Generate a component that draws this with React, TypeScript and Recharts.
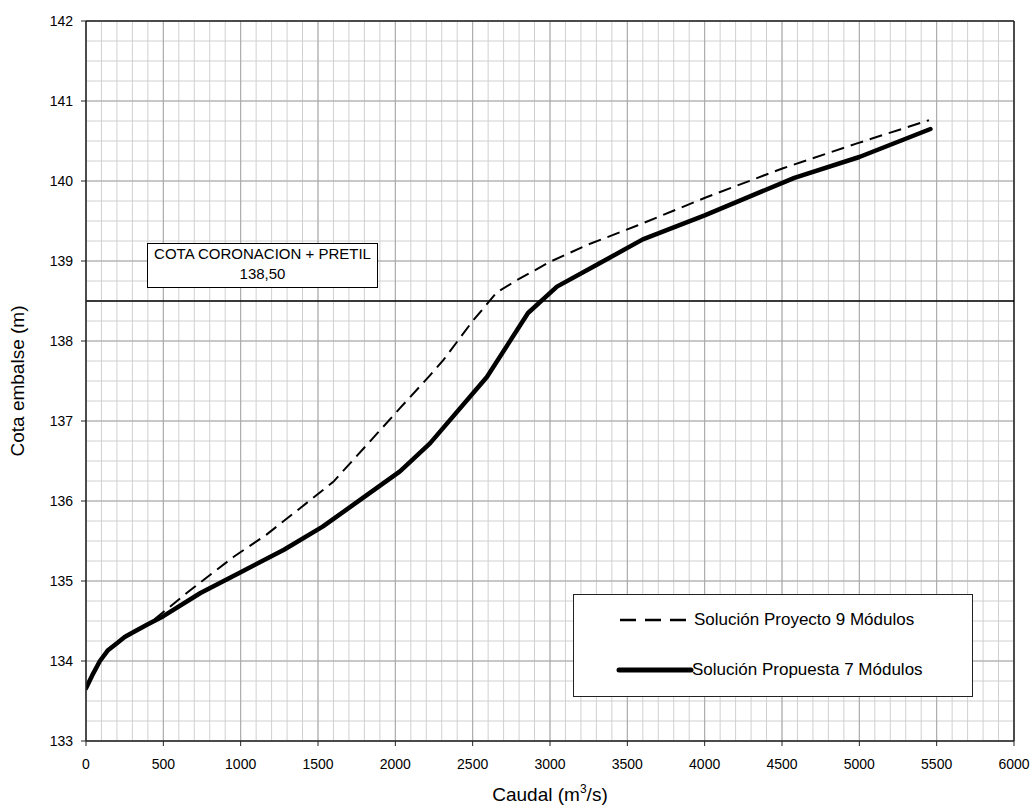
import React from "react";
import {
  LineChart,
  Line,
  XAxis,
  YAxis,
  CartesianGrid,
  ReferenceLine,
  Legend,
  Label,
} from "recharts";

// caudal (m3/s) y cota (m)
const propuestaX = [0, 40, 90, 140, 198, 250, 305, 400, 500, 740, 1000, 1280, 1530, 1770, 2030, 2224, 2592, 2858, 3045, 3300, 3600, 4000, 4580, 5000, 5460];
const propuestaY = [133.66, 133.82, 134.0, 134.13, 134.22, 134.3, 134.36, 134.46, 134.56, 134.85, 135.11, 135.39, 135.68, 136.01, 136.37, 136.72, 137.55, 138.35, 138.68, 138.95, 139.27, 139.57, 140.04, 140.3, 140.65];

const proyectoX = [0, 40, 90, 140, 198, 250, 305, 436, 651, 953, 1167, 1384, 1599, 1815, 2030, 2224, 2310, 2496, 2657, 2786, 3000, 3239, 3560, 4015, 4507, 4985, 5450];
const proyectoY = [133.66, 133.82, 134.0, 134.13, 134.22, 134.3, 134.36, 134.51, 134.85, 135.3, 135.58, 135.91, 136.24, 136.7, 137.16, 137.57, 137.76, 138.24, 138.61, 138.76, 138.99, 139.2, 139.44, 139.8, 140.16, 140.47, 140.76];

const xTicks = [0, 500, 1000, 1500, 2000, 2500, 3000, 3500, 4000, 4500, 5000, 5500, 6000];
const yTicks = [133, 134, 135, 136, 137, 138, 139, 140, 141, 142];

const cotaCoronacion = 138.5;
const cotaTexto = ["COTA CORONACION + PRETIL", "138,50"];

const seriesNames = ["Solución Proyecto 9 Módulos", "Solución Propuesta 7 Módulos"];

const propuesta = propuestaX.map((x, i) => ({ x, y: propuestaY[i] }));
const proyecto = proyectoX.map((x, i) => ({ x, y: proyectoY[i] }));

const FONT = "'Liberation Sans', Arial, sans-serif";

const LegendBox = () => (
  <div
    style={{
      width: 398,
      height: 101,
      border: "1.5px solid #222",
      background: "#fff",
      fontFamily: FONT,
      fontSize: 17,
      color: "#000",
      position: "relative",
    }}
  >
    <svg width={80} height={100} style={{ position: "absolute", left: 40, top: 0 }}>
      <line x1={6} y1={25} x2={75} y2={25} stroke="#000" strokeWidth={2.5} strokeDasharray="16 9" />
      <line x1={5} y1={75} x2={77} y2={75} stroke="#000" strokeWidth={5} strokeLinecap="round" />
    </svg>
    <div style={{ position: "absolute", left: 120, top: 15 }}>{seriesNames[0]}</div>
    <div style={{ position: "absolute", left: 118, top: 65 }}>{seriesNames[1]}</div>
  </div>
);

const CaudalLabel = (props: any) => {
  const vb = props.viewBox || { x: 86, width: 928 };
  return (
    <text
      x={vb.x + vb.width / 2}
      y={801}
      textAnchor="middle"
      fontFamily={FONT}
      fontSize={19}
      fill="#000"
    >
      Caudal (m
      <tspan dy={-8} fontSize={12}>3</tspan>
      <tspan dy={8}>/s)</tspan>
    </text>
  );
};

export default function App() {
  const minorV = ({ offset }: any) =>
    Array.from({ length: 61 }, (_, i) => offset.left + (i * offset.width) / 60);
  const minorH = ({ offset }: any) =>
    Array.from({ length: 37 }, (_, i) => offset.top + (i * offset.height) / 36);

  return (
    <div style={{ position: "absolute", left: 0, top: 0, width: 1032, height: 805, background: "#fff" }}>
      <LineChart
        width={1032}
        height={805}
        margin={{ top: 21, right: 18, bottom: 0, left: 0 }}
        style={{ fontFamily: FONT }}
      >
        {/* rejilla fina */}
        <CartesianGrid
          stroke="#d0d0d0"
          strokeWidth={1}
          verticalCoordinatesGenerator={minorV}
          horizontalCoordinatesGenerator={minorH}
        />
        {/* rejilla principal */}
        <CartesianGrid stroke="#a8a8a8" strokeWidth={1} />

        <XAxis
          dataKey="x"
          type="number"
          domain={[0, 6000]}
          ticks={xTicks}
          height={64}
          tickSize={5}
          tickMargin={13}
          tick={{ fill: "#000", fontSize: 14 }}
          axisLine={{ stroke: "#222", strokeWidth: 1.5 }}
          tickLine={{ stroke: "#222" }}
          allowDataOverflow
        >
          <Label content={<CaudalLabel />} />
        </XAxis>
        <YAxis
          type="number"
          domain={[133, 142]}
          ticks={yTicks}
          width={86}
          tickSize={5}
          tickMargin={8}
          tick={{ fill: "#000", fontSize: 14 }}
          axisLine={{ stroke: "#222", strokeWidth: 1.5 }}
          tickLine={{ stroke: "#222" }}
          allowDataOverflow
        >
          <Label
            value="Cota embalse (m)"
            angle={-90}
            position="insideLeft"
            offset={17}
            style={{ textAnchor: "middle", fontSize: 19, fill: "#000" }}
          />
        </YAxis>

        {/* marco superior y derecho */}
        <ReferenceLine y={142} stroke="#222" strokeWidth={1.5} />
        <ReferenceLine x={6000} stroke="#222" strokeWidth={1.5} />

        <ReferenceLine y={cotaCoronacion} stroke="#000" strokeWidth={1.5} />

        <Line
          data={proyecto}
          dataKey="y"
          name={seriesNames[0]}
          type="linear"
          stroke="#000"
          strokeWidth={2}
          strokeDasharray="13 7"
          dot={false}
          isAnimationActive={false}
        />
        <Line
          data={propuesta}
          dataKey="y"
          name={seriesNames[1]}
          type="linear"
          stroke="#000"
          strokeWidth={4.5}
          strokeLinejoin="round"
          strokeLinecap="round"
          dot={false}
          isAnimationActive={false}
        />

        <Legend
          layout="vertical"
          align="center"
          verticalAlign="middle"
          content={<LegendBox />}
          wrapperStyle={{ left: 573, top: 594, width: 401, height: 104 }}
        />
      </LineChart>

      {/* cuadro de la cota de coronación */}
      <div
        style={{
          position: "absolute",
          left: 147,
          top: 243,
          width: 229,
          height: 43,
          border: "1.5px solid #000",
          background: "#fff",
          fontFamily: FONT,
          fontSize: 15,
          lineHeight: "20px",
          textAlign: "center",
          color: "#000",
        }}
      >
        <div>{cotaTexto[0]}</div>
        <div>{cotaTexto[1]}</div>
      </div>
    </div>
  );
}
